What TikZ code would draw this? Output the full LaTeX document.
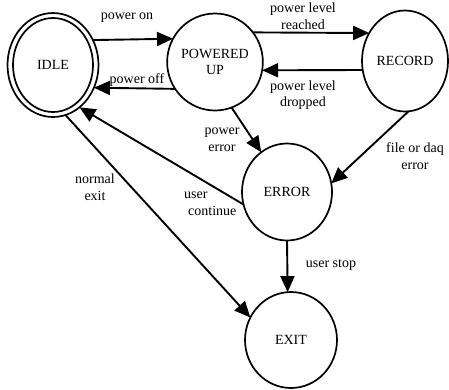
\documentclass[tikz,border=0pt]{standalone}
\usepackage{fontspec}
\setmainfont{Liberation Serif}
\usetikzlibrary{shapes.geometric,arrows.meta}
\begin{document}
\begin{tikzpicture}[x=1pt,y=-1pt,
  state/.style={ellipse,draw,line width=1.7pt,inner sep=0pt,outer sep=0pt,
    font=\fontsize{14}{16}\selectfont,align=center},
  lbl/.style={font=\fontsize{14}{16.5}\selectfont,align=center,inner sep=0pt},
  arr/.style={line width=1.9pt,-{Triangle[length=16pt,width=14pt]}}]
\useasboundingbox (0,0) rectangle (449,389);
\fill[white] (0,0) rectangle (449,389);
% states
\node[state,minimum width=91pt,minimum height=104pt] (idle) at (53,65) {};
\node[state,minimum width=80pt,minimum height=94pt] (idlein) at (53,65) {IDLE};
\node[state,minimum width=90pt,minimum height=97pt] (pu) at (215,62) {POWERED\\UP};
\node[state,minimum width=86pt,minimum height=101pt] (rec) at (405,61) {RECORD};
\node[state,minimum width=90pt,minimum height=97pt] (err) at (287,192) {ERROR};
\node[state,minimum width=92pt,minimum height=96pt] (exit) at (291,340) {EXIT};
% transitions
\draw[arr] (idle.32.3) -- (pu.151.2);
\draw[arr] (pu.214.5) -- (idle.-29.7);
\draw[arr] (pu.38.9) -- (rec.142);
\draw[arr] (rec.192) -- (pu.-10.2);
\draw[arr] (pu.-70) -- (err.123);
\draw[arr] (rec.-86) -- (err.11);
\draw[arr] (err.196.5) -- (idle.-58);
\draw[arr] (idle.-76.5) -- (exit.151.5);
\draw[arr] (err.-90) -- (exit.94.8);
% labels
\node[lbl] (lon) at (127,18) {power on};
\node[lbl] (loff) at (137,80) {power off};
\node[lbl] (lreach) at (303,16) {power level\\reached};
\node[lbl] (ldrop) at (303,95) {power level\\dropped};
\node[lbl] (lperr) at (222,140) {power\\error};
\node[lbl] (lfile) at (415,156) {file or daq\\error};
\node[lbl] (lnorm) at (95,187) {normal\\exit};
\node[lbl,align=left,anchor=west] (lcont) at (184,204) {user\\\hspace{4pt}continue};
\node[lbl] (lstop) at (331,265) {user stop};
\end{tikzpicture}
\end{document}
